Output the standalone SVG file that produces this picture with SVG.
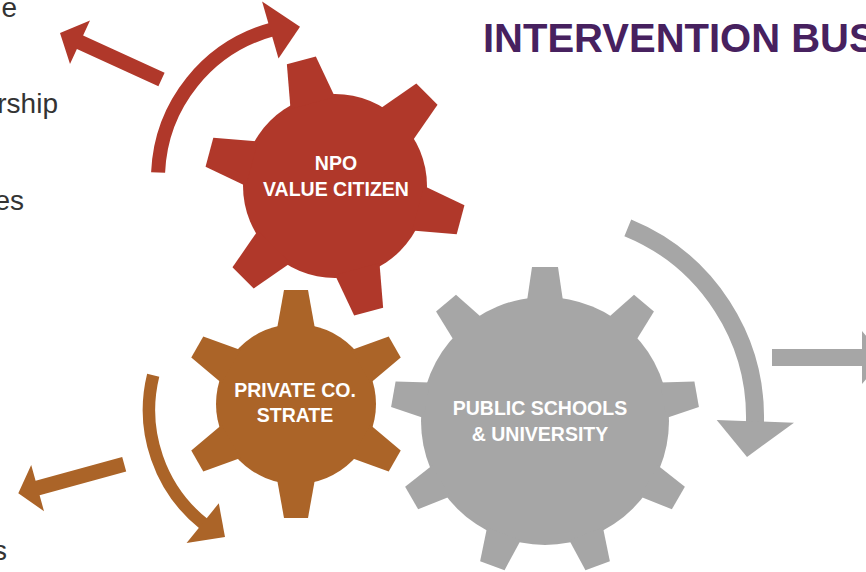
<svg xmlns="http://www.w3.org/2000/svg" width="866" height="572" viewBox="0 0 866 572">
<style>
.gt{font-family:"Liberation Sans",Arial,sans-serif;font-weight:bold;font-size:19.5px;fill:#fff;text-anchor:middle}
.side{font-family:"Liberation Sans",Arial,sans-serif;font-size:28px;fill:#333;text-anchor:end}
.title{font-family:"Liberation Sans",Arial,sans-serif;font-weight:bold;font-size:40px;fill:#47215F}
.red{fill:#B0382A}.ora{fill:#AB6428}.gry{fill:#A6A6A6}
.arc{fill:none;stroke-linecap:butt}
</style>
<defs>
<polygon id="toothR" points="-23,-86 -15,-130 15,-130 23,-86"/>
<polygon id="toothO" points="-19,-75 -12,-114 12,-114 19,-75"/>
<polygon id="toothG" points="-18,-120 -13,-154 13,-154 18,-120"/>
</defs>
<rect width="866" height="572" fill="#fff"/>

<text class="title" x="483" y="52">INTERVENTION BUS</text>
<text class="side" x="17" y="17">e</text>
<text class="side" x="58" y="113">rship</text>
<text class="side" x="24" y="210">es</text>
<text class="side" x="7" y="560">s</text>

<g id="gear-npo" class="red">
<circle cx="335" cy="186" r="92"/>
<g transform="translate(335,186)">
<use href="#toothR" transform="rotate(-15)"/>
<use href="#toothR" transform="rotate(45)"/>
<use href="#toothR" transform="rotate(105)"/>
<use href="#toothR" transform="rotate(165)"/>
<use href="#toothR" transform="rotate(225)"/>
<use href="#toothR" transform="rotate(285)"/>
</g>
<text class="gt" x="336" y="170">NPO</text>
<text class="gt" x="336" y="196">VALUE CITIZEN</text>
</g>

<g id="gear-private" class="ora">
<circle cx="296" cy="404" r="80"/>
<g transform="translate(296,404)">
<use href="#toothO"/>
<use href="#toothO" transform="rotate(60)"/>
<use href="#toothO" transform="rotate(120)"/>
<use href="#toothO" transform="rotate(180)"/>
<use href="#toothO" transform="rotate(240)"/>
<use href="#toothO" transform="rotate(300)"/>
</g>
<text class="gt" x="295" y="397">PRIVATE CO.</text>
<text class="gt" x="295" y="422">STRATE</text>
</g>

<g id="gear-public" class="gry">
<circle cx="545" cy="421" r="124"/>
<g transform="translate(545,421)">
<use href="#toothG"/>
<use href="#toothG" transform="rotate(40)"/>
<use href="#toothG" transform="rotate(80)"/>
<use href="#toothG" transform="rotate(120)"/>
<use href="#toothG" transform="rotate(160)"/>
<use href="#toothG" transform="rotate(200)"/>
<use href="#toothG" transform="rotate(240)"/>
<use href="#toothG" transform="rotate(280)"/>
<use href="#toothG" transform="rotate(320)"/>
</g>
<text class="gt" x="540" y="415">PUBLIC SCHOOLS</text>
<text class="gt" x="540" y="441">&amp; UNIVERSITY</text>
</g>

<g id="connectors">
<path class="arc" stroke="#B0382A" stroke-width="14" d="M158.1,172.5 A155,155 0 0 1 272.9,29.3"/>
<polygon class="red" points="262.1,1.5 300,26.7 278.5,58.5"/>
<polygon class="red" points="164.6,72.7 83.1,35.4 90,20.4 60,33 70,64 76.9,49 158.4,86.3"/>

<path class="arc" stroke="#AB6428" stroke-width="12.5" d="M153.2,375.2 A146,146 0 0 0 205.1,525"/>
<polygon class="ora" points="186.6,542.9 225,537 218.8,503.3"/>
<polygon class="ora" points="122.2,457 35.6,480.8 31.2,464.9 18.3,493.3 44,511.2 39.6,495.2 126.2,471.4"/>

<path class="arc" stroke="#A6A6A6" stroke-width="18" d="M627.8,227.8 A205,205 0 0 1 754.9,424.7"/>
<polygon class="gry" points="716.7,420 747,457 794,422.7"/>
<polygon class="gry" points="772,349 862,349 862,331 884,357.5 862,384 862,366 772,366"/>
</g>
</svg>
